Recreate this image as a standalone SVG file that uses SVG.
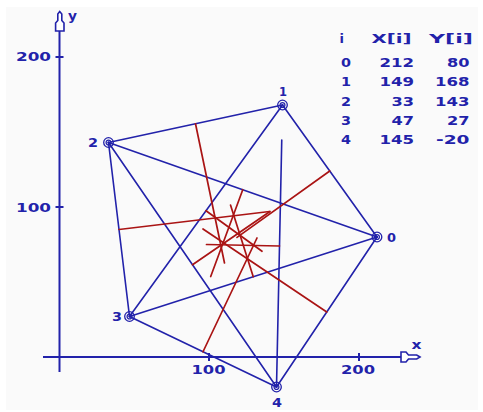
<svg xmlns="http://www.w3.org/2000/svg" xmlns:xlink="http://www.w3.org/1999/xlink" width="483" height="412" viewBox="0 0 483 412">
<style>
.bg{fill:#FAFAFA}
.ax{stroke:#2222AA;stroke-width:2;fill:none;stroke-linecap:butt}
.arr{stroke:#2222AA;stroke-width:1.6;fill:#FFFFFF;stroke-linejoin:miter}
.ln{stroke:#2222AA;stroke-width:1.6;fill:none;stroke-linecap:round}
.rd{stroke:#AA1414;stroke-width:1.7;fill:none;stroke-linecap:round}
.mk{stroke:#2222AA;stroke-width:1.3;fill:none}
.t{font-family:"DejaVu Sans","Liberation Sans",sans-serif;font-weight:bold;font-size:13px;fill:#2222AA}
</style>
<defs>
<g id="mk"><circle class="mk" r="4.8"/><circle class="mk" r="2.4"/><circle r="0.9" fill="#2222AA"/></g>
</defs>
<rect class="bg" x="6" y="7" width="472" height="403"/>
<g id="axes">
<line class="ax" x1="43" y1="357" x2="401" y2="357"/>
<line class="ax" x1="59.5" y1="372" x2="59.5" y2="31"/>
<line class="ax" x1="209" y1="353" x2="209" y2="361"/>
<line class="ax" x1="359" y1="353" x2="359" y2="361"/>
<line class="ax" x1="55.5" y1="57" x2="63.5" y2="57"/>
<line class="ax" x1="55.5" y1="207" x2="63.5" y2="207"/>
<polygon class="arr" points="420,357 416.7,355 408.5,355 406,352 401,352 401,362 406,362 408.5,359 416.7,359"/>
<polygon class="arr" points="59.7,11.5 61.8,14 61.8,20.5 64,23 64,31 55.6,31 55.6,23 57.8,20.5 57.8,14"/>
<text class="t" x="411.5" y="348.5" textLength="10" lengthAdjust="spacingAndGlyphs">x</text>
<text class="t" x="68" y="20" textLength="9" lengthAdjust="spacingAndGlyphs">y</text>
<text class="t" x="16" y="61" textLength="35" lengthAdjust="spacingAndGlyphs">200</text>
<text class="t" x="16" y="211.5" textLength="35" lengthAdjust="spacingAndGlyphs">100</text>
<text class="t" x="191.5" y="374" textLength="34" lengthAdjust="spacingAndGlyphs">100</text>
<text class="t" x="341" y="374" textLength="34" lengthAdjust="spacingAndGlyphs">200</text>
</g>
<g id="connectors">
<line class="ln" x1="377" y1="237" x2="282.5" y2="105"/>
<line class="ln" x1="282.5" y1="105" x2="108.5" y2="142.5"/>
<line class="ln" x1="108.5" y1="142.5" x2="129.5" y2="316.5"/>
<line class="ln" x1="129.5" y1="316.5" x2="276.5" y2="387"/>
<line class="ln" x1="276.5" y1="387" x2="377" y2="237"/>
<line class="ln" x1="377" y1="237" x2="108.5" y2="142.5"/>
<line class="ln" x1="377" y1="237" x2="129.5" y2="316.5"/>
<line class="ln" x1="282.5" y1="105" x2="129.5" y2="316.5"/>
<line class="ln" x1="108.5" y1="142.5" x2="276.5" y2="387"/>
<line class="ln" x1="281.76" y1="140" x2="276.5" y2="387"/>
</g>
<g id="bisectors">
<line class="rd" x1="195.5" y1="123.75" x2="224.5" y2="263"/>
<line class="rd" x1="119" y1="229.5" x2="269.5" y2="211.5"/>
<line class="rd" x1="203" y1="351.75" x2="257" y2="238"/>
<line class="rd" x1="326.75" y1="312" x2="203" y2="229"/>
<line class="rd" x1="329.75" y1="171" x2="237" y2="237.4"/>
<line class="rd" x1="242.75" y1="189.75" x2="210.7" y2="276.5"/>
<line class="rd" x1="206" y1="210.75" x2="262" y2="251.3"/>
<line class="rd" x1="192.5" y1="264.75" x2="270" y2="211.5"/>
<line class="rd" x1="253.25" y1="276.75" x2="230.5" y2="205"/>
<line class="rd" x1="279.5" y1="246" x2="206.5" y2="244.5"/>
</g>
<g id="node0"><use xlink:href="#mk" x="377" y="237"/><text class="t" x="387" y="242" textLength="9" lengthAdjust="spacingAndGlyphs">0</text></g>
<g id="node1"><use xlink:href="#mk" x="282.5" y="105"/><text class="t" x="279" y="96" textLength="8" lengthAdjust="spacingAndGlyphs">1</text></g>
<g id="node2"><use xlink:href="#mk" x="108.5" y="142.5"/><text class="t" x="88" y="147" textLength="10" lengthAdjust="spacingAndGlyphs">2</text></g>
<g id="node3"><use xlink:href="#mk" x="129.5" y="316.5"/><text class="t" x="112" y="321" textLength="10" lengthAdjust="spacingAndGlyphs">3</text></g>
<g id="node4"><use xlink:href="#mk" x="276.5" y="387"/><text class="t" x="272" y="407" textLength="10" lengthAdjust="spacingAndGlyphs">4</text></g>
<g id="table">
<text class="t" x="339.5" y="43">i</text>
<text class="t" x="371.5" y="43" textLength="40" lengthAdjust="spacingAndGlyphs">X[i]</text>
<text class="t" x="429" y="43" textLength="44" lengthAdjust="spacingAndGlyphs">Y[i]</text>
<text class="t" x="341" y="66.5" textLength="10" lengthAdjust="spacingAndGlyphs">0</text>
<text class="t" x="379.5" y="66.5" textLength="34.5" lengthAdjust="spacingAndGlyphs">212</text>
<text class="t" x="447" y="66.5" textLength="22.5" lengthAdjust="spacingAndGlyphs">80</text>
<text class="t" x="341" y="86" textLength="10" lengthAdjust="spacingAndGlyphs">1</text>
<text class="t" x="379.5" y="86" textLength="34.5" lengthAdjust="spacingAndGlyphs">149</text>
<text class="t" x="435" y="86" textLength="34.5" lengthAdjust="spacingAndGlyphs">168</text>
<text class="t" x="341" y="105.5" textLength="10" lengthAdjust="spacingAndGlyphs">2</text>
<text class="t" x="391.5" y="105.5" textLength="22.5" lengthAdjust="spacingAndGlyphs">33</text>
<text class="t" x="435" y="105.5" textLength="34.5" lengthAdjust="spacingAndGlyphs">143</text>
<text class="t" x="341" y="124.5" textLength="10" lengthAdjust="spacingAndGlyphs">3</text>
<text class="t" x="391.5" y="124.5" textLength="22.5" lengthAdjust="spacingAndGlyphs">47</text>
<text class="t" x="447" y="124.5" textLength="22.5" lengthAdjust="spacingAndGlyphs">27</text>
<text class="t" x="341" y="144" textLength="10" lengthAdjust="spacingAndGlyphs">4</text>
<text class="t" x="379.5" y="144" textLength="34.5" lengthAdjust="spacingAndGlyphs">145</text>
<text class="t" x="436" y="144" textLength="33.5" lengthAdjust="spacingAndGlyphs">-20</text>
</g>
</svg>
